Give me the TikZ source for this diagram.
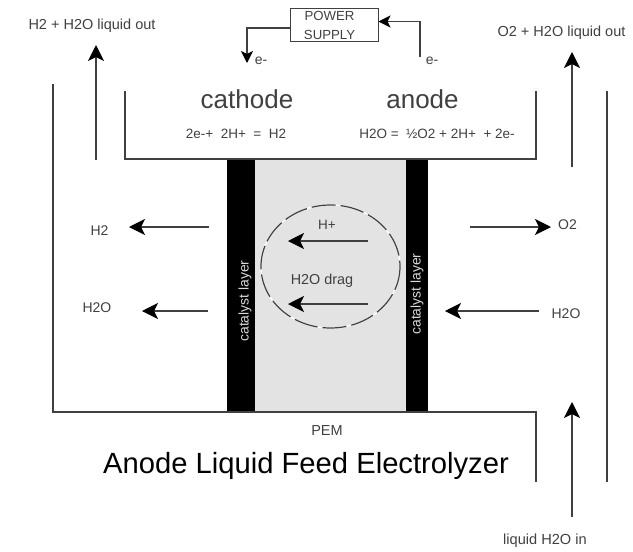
\documentclass[tikz,border=0pt]{standalone}
\usepackage{fontspec}
\setmainfont{Liberation Sans}
\usetikzlibrary{arrows.meta}
\definecolor{wallc}{gray}{0.25}
\definecolor{txtc}{gray}{0.25}
\tikzset{
  wall/.style={draw=wallc,line width=1.3pt},
  flow/.style={draw=wallc,line width=1.3pt,-{Stealth[length=16pt,width=16pt,inset=4pt,black]}},
  smallflow/.style={draw=wallc,line width=1.3pt,-{Stealth[length=12pt,width=12pt,inset=3pt,black]}},
  lbl/.style={inner sep=0pt,text=txtc,font=\fontsize{14}{16}\selectfont},
  big/.style={inner sep=0pt,text=txtc,font=\fontsize{26}{30}\selectfont},
  cat/.style={inner sep=0pt,text=white!85!black,rotate=90,font=\fontsize{13.9}{16}\selectfont},
  blackbar/.style={fill=black,draw=none},
}
\begin{document}
\begin{tikzpicture}[x=1pt,y=-1pt]
\useasboundingbox (0,0) rectangle (633,552);
% membrane and catalyst layers
\fill[gray!22] (255,159) rectangle (406,412);
\fill[blackbar] (227,159) rectangle (255,412);
\fill[blackbar] (406,159) rectangle (428,412);
% walls
\draw[wall] (125,91) -- (125,159) -- (536,159) -- (536,91);
\draw[wall] (53,84) -- (53,412) -- (536,412) -- (536,482);
\draw[wall] (607,91) -- (607,482);
% power supply
\node[draw=wallc,line width=1.3pt,outer sep=0pt,minimum width=88pt,minimum height=33pt,inner sep=0pt] (ps) at (334.5,25) {};
\node[lbl,font=\fontsize{13.2}{15}\selectfont] (pw) at (329.5,16) {POWER};
\node[lbl,font=\fontsize{13.2}{15}\selectfont] (sp) at (329.5,35) {SUPPLY};
\coordinate (eout) at (247,63);
\coordinate (ein) at (420,57);
\draw[smallflow] (ps.west |- 0,28) -| (eout);
\draw[smallflow] (ein) |- (ps.east |- 0,21.5);
\node[lbl] (em1) at (261,61) {e-};
\node[lbl] (em2) at (432,61) {e-};
% headings
\node[big] (cath) at (247,99) {cathode};
\node[big] (an) at (422.5,99) {anode};
\node[lbl,font=\fontsize{13.5}{16}\selectfont] (eq1) at (236,134) {2e-+ \ 2H+ \ = \ H2};
\node[lbl,font=\fontsize{13.5}{16}\selectfont] (eq2) at (437,134) {H2O = \ ½O2 + 2H+ \ + 2e-};
% outlet labels and arrows
\node[lbl,font=\fontsize{14.5}{16}\selectfont] (h2out) at (92,26) {H2 + H2O liquid out};
\node[lbl,font=\fontsize{14.5}{16}\selectfont] (o2out) at (561.5,33) {O2 + H2O liquid out};
\coordinate (a1s) at (96,160); \coordinate (a1e) at (96,45);
\coordinate (a2s) at (572,167); \coordinate (a2e) at (572,52);
\draw[flow] (a1s) -- (a1e);
\draw[flow] (a2s) -- (a2e);
% species
\node[lbl] (h2) at (99.5,231) {H2};
\node[lbl] (h2o) at (97,308) {H2O};
\node[lbl] (o2) at (567.5,225) {O2};
\node[lbl] (h2or) at (566,314) {H2O};
\coordinate (b1) at (209,227); \coordinate (b2) at (129,227);
\coordinate (c1) at (208,311); \coordinate (c2) at (142,311);
\coordinate (d1) at (470,227); \coordinate (d2) at (551,227);
\coordinate (f1) at (539,311); \coordinate (f2) at (445,311);
\draw[flow] (b1) -- (b2);
\draw[flow] (c1) -- (c2);
\draw[flow] (d1) -- (d2);
\draw[flow] (f1) -- (f2);
% circle
\draw[white,line width=1.3pt] (330.5,266.5) ellipse [x radius=69.5,y radius=61.5];
\draw[black!75,line width=1.2pt,dash pattern=on 24pt off 5pt] (330.5,266.5) ellipse [x radius=69.5,y radius=61.5];
\node[lbl,font=\fontsize{13.5}{16}\selectfont] (hp) at (327,225) {H+};
\node[lbl,font=\fontsize{14.4}{16}\selectfont] (drag) at (322,281) {H2O drag};
\coordinate (g1) at (368,241); \coordinate (g2) at (288,241);
\coordinate (k1) at (368,304); \coordinate (k2) at (288,304);
\draw[flow] (g1) -- (g2);
\draw[flow] (k1) -- (k2);
% catalyst text
\node[cat] (cl) at (245,301) {catalyst layer};
\node[cat] (cr) at (417,294) {catalyst layer};
% bottom
\node[lbl,font=\fontsize{14.5}{16}\selectfont] (pem) at (327,431) {PEM};
\node[inner sep=0pt,font=\fontsize{29.2}{33}\selectfont] (title) at (306,466) {Anode Liquid Feed Electrolyzer};
\coordinate (h1) at (572,517); \coordinate (h2e) at (572,402);
\draw[flow] (h1) -- (h2e);
\node[lbl,font=\fontsize{14.6}{16}\selectfont] (liq) at (545,541) {liquid H2O in};
\end{tikzpicture}
\end{document}
